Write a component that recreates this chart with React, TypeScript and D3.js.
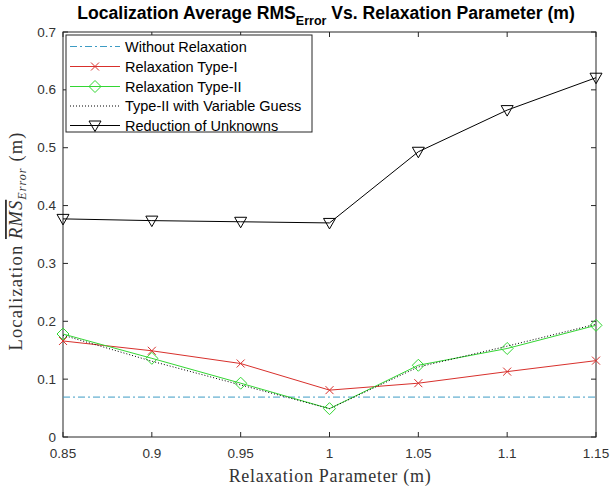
import React from "react";
import * as d3 from "d3";

const xValues = [0.85, 0.9, 0.95, 1.0, 1.05, 1.1, 1.15];
const withoutRelaxation = [0.069, 0.069, 0.069, 0.069, 0.069, 0.069, 0.069];
const relaxType1 = [0.166, 0.149, 0.127, 0.081, 0.093, 0.113, 0.132];
const relaxType2 = [0.178, 0.136, 0.093, 0.049, 0.124, 0.153, 0.193];
const variableGuess = [0.176, 0.131, 0.09, 0.049, 0.121, 0.157, 0.195];
const reduction = [0.377, 0.374, 0.372, 0.37, 0.493, 0.565, 0.621];
const xTicks = [0.85, 0.9, 0.95, 1.0, 1.05, 1.1, 1.15];
const xTickLabels = ["0.85", "0.9", "0.95", "1", "1.05", "1.1", "1.15"];
const yTicks = [0, 0.1, 0.2, 0.3, 0.4, 0.5, 0.6, 0.7];
const yTickLabels = ["0", "0.1", "0.2", "0.3", "0.4", "0.5", "0.6", "0.7"];
const legendLabels = [
  "Without Relaxation",
  "Relaxation Type-I",
  "Relaxation Type-II",
  "Type-II with Variable Guess",
  "Reduction of Unknowns",
];

const W = 614;
const H = 489;
const L = 63, R = 596, T = 32, B = 437;
const SANS = "'Liberation Sans', Arial, sans-serif";
const SERIF = "'Liberation Serif', 'DejaVu Serif', serif";
const CYAN = "#3d9cc4";
const RED = "#d8302c";
const GREEN = "#33d633";

export default function App() {
  const x = d3.scaleLinear().domain([0.85, 1.15]).range([L, R]);
  const y = d3.scaleLinear().domain([0, 0.7]).range([B, T]);
  const line = (vals: number[]) =>
    d3.line<number>().x((_, i) => x(xValues[i])).y((v) => y(v))(vals) || "";

  const cross = (cx: number, cy: number, k: string) => (
    <path key={k} d={`M${cx - 4},${cy - 4}L${cx + 4},${cy + 4}M${cx - 4},${cy + 4}L${cx + 4},${cy - 4}`} stroke={RED} strokeWidth={1} fill="none" />
  );
  const diamond = (cx: number, cy: number, k: string) => (
    <path key={k} d={`M${cx},${cy - 6}L${cx + 6},${cy}L${cx},${cy + 6}L${cx - 6},${cy}Z`} stroke={GREEN} strokeWidth={1} fill="none" />
  );
  const tri = (cx: number, cy: number, k: string) => (
    <path key={k} d={`M${cx - 6},${cy - 4.5}L${cx + 6},${cy - 4.5}L${cx},${cy + 6}Z`} stroke="#000" strokeWidth={1} fill="none" />
  );

  const legY = [46.5, 66.5, 86.5, 106, 125.5];

  return (
    <svg width={W} height={H} style={{ position: "absolute", left: 0, top: 0, background: "#fff" }}>
      <rect x={0} y={0} width={W} height={H} fill="#fff" />
      {/* title */}
      <text x={326} y={19} textAnchor="middle" fontFamily={SANS} fontWeight="bold" fontSize={17.6} fill="#000">
        Localization Average RMS
        <tspan fontSize={12.5} dy={6}>Error</tspan>
        <tspan dy={-6}> Vs. Relaxation Parameter (m)</tspan>
      </text>

      {/* axes frame */}
      <rect x={L} y={T} width={R - L} height={B - T} fill="none" stroke="#262626" strokeWidth={1} />
      {xTicks.map((t, i) => (
        <g key={"xt" + i}>
          <line x1={x(t)} x2={x(t)} y1={B} y2={B - 5} stroke="#262626" />
          <line x1={x(t)} x2={x(t)} y1={T} y2={T + 5} stroke="#262626" />
          <text x={x(t)} y={458} textAnchor="middle" fontFamily={SANS} fontSize={13.5} fill="#333">
            {xTickLabels[i]}
          </text>
        </g>
      ))}
      {yTicks.map((t, i) => (
        <g key={"yt" + i}>
          <line x1={L} x2={L + 5} y1={y(t)} y2={y(t)} stroke="#262626" />
          <line x1={R} x2={R - 5} y1={y(t)} y2={y(t)} stroke="#262626" />
          <text x={56} y={y(t) + 4.5} textAnchor="end" fontFamily={SANS} fontSize={13.5} fill="#333">
            {yTickLabels[i]}
          </text>
        </g>
      ))}

      {/* axis labels */}
      <text x={330} y={482} textAnchor="middle" fontFamily={SERIF} fontSize={18} letterSpacing={0.7} fill="#333">
        Relaxation Parameter (m)
      </text>
      <text transform="translate(22,241) rotate(-90)" textAnchor="middle" fontFamily={SERIF} fontSize={18.5} letterSpacing={1.1} fill="#333">
        Localization{" "}
        <tspan fontStyle="italic" style={{ textDecoration: "overline" }}>RMS</tspan>
        <tspan fontStyle="italic" fontSize={12} dy={4}>Error</tspan>
        <tspan dy={-4}> (m)</tspan>
      </text>

      {/* series */}
      <path d={line(withoutRelaxation)} fill="none" stroke={CYAN} strokeWidth={1} strokeDasharray="7,3,2,3" />
      <path d={line(relaxType1)} fill="none" stroke={RED} strokeWidth={1} />
      {relaxType1.map((v, i) => cross(x(xValues[i]), y(v), "c" + i))}
      <path d={line(relaxType2)} fill="none" stroke={GREEN} strokeWidth={1} />
      {relaxType2.map((v, i) => diamond(x(xValues[i]), y(v), "d" + i))}
      <path d={line(variableGuess)} fill="none" stroke="#000" strokeWidth={1} strokeDasharray="1,2" />
      <path d={line(reduction)} fill="none" stroke="#000" strokeWidth={1} />
      {reduction.map((v, i) => tri(x(xValues[i]), y(v), "t" + i))}

      {/* legend */}
      <rect x={66} y={35} width={246} height={97} fill="#fff" stroke="#262626" strokeWidth={1} />
      <line x1={70} x2={120} y1={legY[0]} y2={legY[0]} stroke={CYAN} strokeDasharray="7,3,2,3" />
      <line x1={70} x2={120} y1={legY[1]} y2={legY[1]} stroke={RED} />
      {cross(95, legY[1], "lc")}
      <line x1={70} x2={120} y1={legY[2]} y2={legY[2]} stroke={GREEN} />
      {diamond(95, legY[2], "ld")}
      <line x1={70} x2={120} y1={legY[3]} y2={legY[3]} stroke="#000" strokeDasharray="1,2" />
      <line x1={70} x2={120} y1={legY[4]} y2={legY[4]} stroke="#000" />
      {tri(95, legY[4], "lt")}
      {legendLabels.map((s, i) => (
        <text key={"lg" + i} x={125} y={legY[i] + 5} fontFamily={SANS} fontSize={14.5} fill="#000">
          {s}
        </text>
      ))}
    </svg>
  );
}
